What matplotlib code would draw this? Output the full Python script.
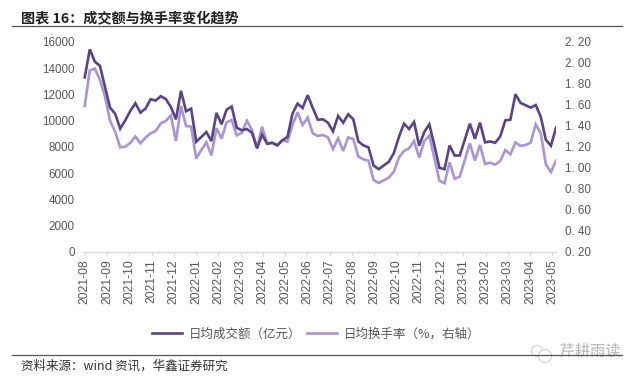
"""
Turnover and turnover rate chart, weekly values read off the picture
"""

import matplotlib
matplotlib.use('Agg')
import matplotlib.pyplot as plt
import matplotlib.patheffects as pe
import numpy as np
from matplotlib.lines import Line2D
from matplotlib.patches import Circle, Rectangle

plt.rcParams['font.family'] = ['Noto Sans CJK SC', 'DejaVu Sans']

FW, FH = 640, 380

# weekly average turnover (100m yuan), left axis
turnover = [13300, 15440, 14500, 14190, 12580, 11000, 10540, 9400, 10030, 10750,
            11330, 10620, 10925, 11640, 11540, 11870, 11660, 11050, 10110, 12280,
            10720, 10925, 8400, 8760, 9140, 8450, 10600, 9730, 10850, 11080,
            9470, 9270, 9370, 9090, 7900, 8940, 8250, 8320, 8120, 8500,
            8760, 10540, 11300, 10975, 11950, 10975, 10080, 10110, 9855, 9190,
            10365, 9855, 10490, 10110, 8425, 8120, 7970, 6590, 6310, 6590,
            6870, 7535, 8760, 9780, 9370, 9905, 8095, 9140, 9730, 8120,
            6410, 6310, 8120, 7350, 7350, 8550, 9780, 8625, 9855, 8350,
            8425, 8320, 8810, 10030, 10080, 12020, 11360, 11180, 11000, 11200,
            10290, 8550, 8095, 9470]

# weekly average turnover rate (%), right axis
turnover_rate = [1.59, 1.93, 1.946, 1.84, 1.68, 1.45, 1.346, 1.197, 1.203, 1.24,
                 1.30, 1.235, 1.29, 1.33, 1.352, 1.425, 1.448, 1.50, 1.257, 1.59,
                 1.40, 1.394, 1.09, 1.17, 1.244, 1.12, 1.38, 1.28, 1.435, 1.457,
                 1.31, 1.337, 1.45, 1.362, 1.19, 1.394, 1.23, 1.24, 1.22, 1.267,
                 1.25, 1.41, 1.53, 1.41, 1.48, 1.33, 1.305, 1.314, 1.292, 1.18,
                 1.283, 1.162, 1.292, 1.276, 1.108, 1.083, 1.07, 0.886, 0.857, 0.883,
                 0.908, 0.965, 1.098, 1.162, 1.187, 1.257, 1.098, 1.257, 1.308, 1.092,
                 0.879, 0.854, 1.054, 0.898, 0.917, 1.076, 1.235, 1.07, 1.219, 1.038,
                 1.051, 1.032, 1.067, 1.171, 1.13, 1.244, 1.21, 1.219, 1.241, 1.416,
                 1.33, 1.035, 0.962, 1.07]

month_labels = ['2021-08', '2021-09', '2021-10', '2021-11', '2021-12', '2022-01',
                '2022-02', '2022-03', '2022-04', '2022-05', '2022-06', '2022-07',
                '2022-08', '2022-09', '2022-10', '2022-11', '2022-12', '2023-01',
                '2023-02', '2023-03', '2023-04', '2023-05']
left_ticks = [0, 2000, 4000, 6000, 8000, 10000, 12000, 14000, 16000]
right_ticks = [0.2, 0.4, 0.6, 0.8, 1.0, 1.2, 1.4, 1.6, 1.8, 2.0, 2.2]

DARK = '#5b4486'
LIGHT = '#a895d2'
TEXT = '#595959'
LATIN = ['Liberation Sans', 'Noto Sans CJK SC']

fig = plt.figure(figsize=(FW / 100, FH / 100), dpi=100)
fig.patch.set_facecolor('white')

ax = fig.add_axes([83.2 / FW, 1 - 252 / FH, (556 - 83.2) / FW, 210 / FH])
ax2 = ax.twinx()

x = np.arange(len(turnover))
ax.plot(x, turnover, color=DARK, lw=1.9, solid_joinstyle='miter', zorder=3)
ax2.plot(x, turnover_rate, color=LIGHT, lw=1.9, solid_joinstyle='miter', zorder=2)
ax.set_zorder(ax2.get_zorder() + 1)
ax.patch.set_visible(False)

ax.set_xlim(-0.3, len(turnover) - 1)
ax.set_ylim(0, 16000)
ax2.set_ylim(0.2, 2.2)

# month ticks fall where the month starts, not on a weekly point
tick_pos = np.arange(len(month_labels)) * 4.395
ax.set_xticks(tick_pos)
ax.set_xticklabels(month_labels, rotation=90, fontsize=8.8, color=TEXT, family=LATIN)
ax.tick_params(axis='x', length=3, width=0.8, color='#d9d9d9', pad=2)

ax.set_yticks(left_ticks)
ax.set_yticklabels([str(v) for v in left_ticks], fontsize=8.4, color=TEXT, family=LATIN)
ax.tick_params(axis='y', length=0, pad=6)

ax2.set_yticks(right_ticks)
ax2.set_yticklabels([f'{v:.2f}'.replace('.', '. ') for v in right_ticks], fontsize=8.4,
                    color=TEXT, family=LATIN)
ax2.tick_params(axis='y', length=0, pad=6.5)

for a in (ax, ax2):
    for side in ['top', 'left', 'right']:
        a.spines[side].set_visible(False)
    a.spines['bottom'].set_color('#d9d9d9')
    a.spines['bottom'].set_linewidth(0.8)

handles = [Line2D([], [], color=DARK, lw=1.9),
           Line2D([], [], color=LIGHT, lw=1.9)]
fig.legend(handles, ['日均成交额（亿元）', '日均换手率（%，右轴）'], ncol=2, frameon=False,
           loc='center', bbox_to_anchor=(316 / FW, 1 - 334 / FH), fontsize=9.0,
           labelcolor=TEXT, handlelength=2.35, handletextpad=0.55, columnspacing=0.5)

# header and footer rules
for y in (26, 355):
    fig.add_artist(Line2D([12 / FW, 622 / FW], [1 - y / FH, 1 - y / FH], color='#555555', lw=0.9))

fig.text(21 / FW, 1 - 18 / FH, '图表 16：成交额与换手率变化趋势', fontsize=10.2, fontweight='bold',
         color='#222222', va='center', ha='left')
fig.text(21 / FW, 1 - 366 / FH, '资料来源：wind 资讯，华鑫证券研究', fontsize=9, color='#333333',
         va='center', ha='left')

# watermark: chat icon over a gap in the footer rule, then the account name
overlay = fig.add_axes([0, 0, 1, 1], facecolor='none')
overlay.set_xlim(0, FW)
overlay.set_ylim(FH, 0)
overlay.axis('off')
overlay.add_patch(Rectangle((529, 348), 30, 15, facecolor='white', edgecolor='none'))
overlay.add_patch(Circle((537, 351), 5.5, facecolor='white', edgecolor='#d8d8d8', lw=0.8))
overlay.add_patch(Circle((545, 356), 6.5, facecolor='white', edgecolor='#d0d0d0', lw=0.8))
overlay.text(590, 351.5, '芹耕雨读', fontsize=11, color='#b4b4b4', ha='center', va='center',
             path_effects=[pe.withStroke(linewidth=1.5, foreground='white')])

fig.savefig('out.png', dpi=100)
